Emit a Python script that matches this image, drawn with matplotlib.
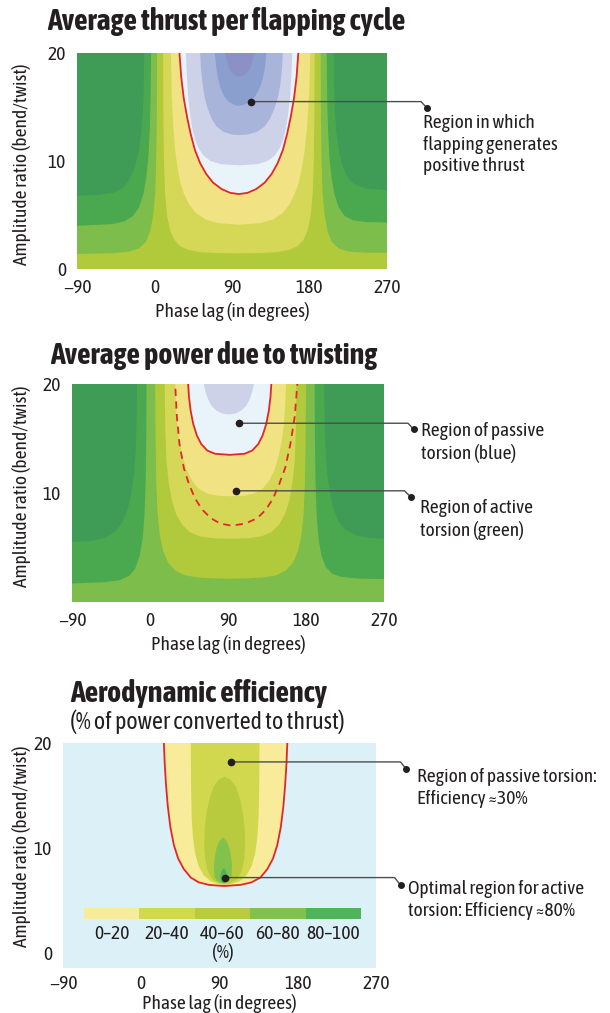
import matplotlib
matplotlib.use('Agg')
import matplotlib.pyplot as plt
import matplotlib.font_manager as fm
from matplotlib.lines import Line2D

# pick a narrow face if one is installed (the original uses a condensed sans)
_fonts = fm.fontManager.ttflist
_names = {f.name for f in _fonts}
FS = 1.0
if 'Noto Sans SemiCondensed' in _names:
    plt.rcParams['font.family'] = ['Noto Sans SemiCondensed', 'DejaVu Sans']
elif 'Liberation Sans Narrow' in _names:
    plt.rcParams['font.family'] = ['Liberation Sans Narrow', 'DejaVu Sans']
elif any('Condensed' in n for n in _names):
    cname = sorted(n for n in _names if 'Condensed' in n)[0]
    plt.rcParams['font.family'] = [cname, 'DejaVu Sans']
    FS = 1.08
else:
    plt.rcParams['font.family'] = ['Liberation Sans', 'DejaVu Sans']
    FS = 0.86

W, H = 610, 1013
INK = '#231f20'
RED = '#e3262a'

phase_ticks = [-90, 0, 90, 180, 270]

# ---------- panel 1: average thrust ----------
thr_colors = ['#3e9c56', '#4aa84f', '#7cbd4b', '#b1ca3b', '#d5d856', '#f1e284',
              '#e8f4fa', '#cdd2e8', '#a9b4da', '#8a9fce', '#8b91c6']
# outer contours: left curve (top -> left edge), right curve (top -> right edge)
thr_o1_lx = [-12, -12.5, -13.5, -15.5, -18.5, -23, -29, -37, -48, -65, -90]
thr_o1_ly = [20, 17, 14.5, 12.5, 10.8, 9.4, 8.3, 7.5, 7.05, 6.85, 6.8]
thr_o1_rx = [208, 208.5, 209.5, 211.5, 214.5, 219, 225, 233, 246, 270]
thr_o1_ry = [20, 17, 14.5, 12.5, 10.8, 9.4, 8.4, 7.8, 7.45, 7.3]
thr_o2_lx = [-4, -4.5, -5.5, -7, -9.5, -13, -18, -25, -35, -50, -90]
thr_o2_ly = [20, 16, 13, 10.5, 8.5, 6.9, 5.7, 4.9, 4.4, 4.15, 4.0]
thr_o2_rx = [200, 200.5, 201.5, 203, 205.5, 209, 214, 221, 231, 246, 270]
thr_o2_ry = [20, 16, 13, 10.5, 8.5, 6.9, 5.7, 4.9, 4.5, 4.35, 4.3]
thr_o3_lx = [3, 2.7, 2, 0.8, -1.5, -5, -10, -18, -30, -50, -90]
thr_o3_ly = [20, 14, 10, 7, 5, 3.5, 2.5, 1.9, 1.6, 1.45, 1.4]
thr_o3_rx = [193, 193.3, 194, 195.2, 197.5, 201, 206, 214, 226, 246, 270]
thr_o3_ry = [20, 14, 10, 7, 5, 3.5, 2.5, 1.9, 1.6, 1.5, 1.5]
# U-shaped contours: shared heights, left and right x
thr_u1_y = [20, 14, 10, 7, 5, 3.6, 2.7, 2.1, 1.75, 1.55, 1.47, 1.45]
thr_u1_xl = [10, 10.3, 11, 12.3, 14.5, 18, 23, 30, 40, 55, 75, 98]
thr_u1_xr = [186, 185.7, 185, 183.7, 181.5, 178, 173, 166, 156, 141, 121, 98]
thr_u2_y = [20, 16, 13, 11, 9.5, 8, 7, 6, 5.2, 4.6, 4.25, 4.1]
thr_u2_xl = [19, 20, 22, 24, 26.5, 30, 34, 40, 48, 59, 74, 98]
thr_u2_xr = [181, 179.5, 177, 174.5, 171.5, 167.5, 163, 157, 149, 138, 123, 98]
thr_u3_y = [20, 17.8, 15.8, 14, 12.5, 11, 9.8, 8.8, 8.0, 7.4, 7.05, 6.94]   # red line
thr_u3_xl = [29, 31, 34, 38, 42, 47, 53, 60, 68, 78, 88, 98]
thr_u3_xr = [167, 165, 162, 158, 154, 149, 143, 136, 128, 118, 108, 98]
thr_u4_y = [20, 18, 16, 14.5, 13, 12, 11.2, 10.5, 10, 9.7, 9.6]
thr_u4_xl = [36.5, 37.5, 39, 41, 44, 47, 51, 57, 65, 77, 98]
thr_u4_xr = [160, 159, 157.5, 155.5, 152.5, 149.5, 145.5, 139.5, 131.5, 119.5, 98]
thr_u5_y = [20, 18.5, 17, 15.8, 14.8, 13.9, 13.2, 12.7, 12.45, 12.4]
thr_u5_xl = [53, 54, 56, 58.5, 62, 66.5, 72, 80, 90, 98]
thr_u5_xr = [149, 148, 146, 143, 139, 134, 128, 119, 108, 98]
thr_u6_y = [20, 18.8, 17.7, 16.8, 16.0, 15.5, 15.2, 15.1]
thr_u6_xl = [70, 71.5, 73.5, 76.5, 81, 86, 92, 98]
thr_u6_xr = [130, 128.5, 126, 122.5, 117, 111, 104, 98]
thr_u7_y = [20, 19.2, 18.5, 18.05, 17.85, 17.8]
thr_u7_xl = [82, 84, 87, 91, 95, 98]
thr_u7_xr = [116, 113.5, 110.5, 106, 101.5, 98]

# ---------- panel 2: power due to twisting ----------
pow_colors = ['#3e9c56', '#4aa84f', '#7cbd4b', '#b1ca3b', '#d5d856', '#f1e284',
              '#e8f4fa', '#cdd2e8']
pow_o1_lx = [-15, -15.5, -16.5, -18.5, -21.5, -26, -32, -40, -52, -68, -90]
pow_o1_ly = [20, 16.5, 14, 11.8, 10, 8.5, 7.3, 6.5, 5.9, 5.6, 5.5]
pow_o1_rx = [201, 201.5, 202.5, 204.5, 207.5, 212, 218, 226, 238, 252, 270]
pow_o1_ry = [20, 16.5, 14, 11.8, 10, 8.5, 7.3, 6.6, 6.1, 5.9, 5.8]
pow_o2_lx = [-4, -4.3, -5, -6.3, -8.5, -12, -17, -24, -35, -55, -90]
pow_o2_ly = [20, 15, 11, 8, 5.8, 4.2, 3.1, 2.4, 2.0, 1.8, 1.7]
pow_o2_rx = [190, 190.3, 191, 192.3, 194.5, 198, 203, 210, 221, 240, 270]
pow_o2_ry = [20, 15, 11, 8, 5.8, 4.2, 3.2, 2.6, 2.3, 2.15, 2.1]
pow_u1_y = [20, 15, 11, 8, 6, 4.6, 3.6, 2.9, 2.45, 2.25, 2.17, 2.14]
pow_u1_xl = [6, 6.4, 7.2, 8.8, 11.5, 15.5, 21, 29, 40, 55, 72, 93]
pow_u1_xr = [180, 179.6, 178.8, 177.2, 174.5, 170.5, 165, 157, 146, 131, 114, 93]
pow_u2_y = [20, 16, 13, 11, 9.4, 8.1, 7.1, 6.4, 6.0, 5.85, 5.8]
pow_u2_xl = [17, 17.6, 19, 21.5, 25, 30, 37, 46, 58, 74, 93]
pow_u2_xr = [169, 168.4, 167, 164.5, 161, 156, 149, 140, 128, 112, 93]
pow_u3_y = [20, 18, 16.3, 14.8, 13.4, 12.2, 11.2, 10.4, 9.95, 9.75, 9.7]
pow_u3_xl = [29, 30, 31.5, 34, 37.5, 42, 48, 56, 66, 78, 93]
pow_u3_xr = [157, 156, 154.5, 152, 148.5, 144, 138, 130, 120, 108, 93]
pow_u4_y = [20, 18.8, 17.5, 16.3, 15.3, 14.5, 13.9, 13.6, 13.5]   # solid red line
pow_u4_xl = [44, 45, 47, 50, 54, 59, 66, 75, 92]
pow_u4_xr = [140, 139, 137, 134, 130, 125, 118, 109, 92]
pow_u5_y = [20, 19.3, 18.6, 18, 17.6, 17.3, 17.2]
pow_u5_xl = [62, 64, 67, 71, 76, 83, 91]
pow_u5_xr = [120, 118, 115, 111, 106, 99, 91]
pow_dash_y = [20, 17, 14.5, 12.3, 10.8, 9.5, 8.5, 7.7, 7.2, 7.0]   # dashed red line
pow_dash_xl = [29, 31, 34, 39, 45, 52, 60, 70, 81, 94]
pow_dash_xr = [170, 167, 162, 156, 149, 142, 134, 124, 110, 94]

# ---------- panel 3: aerodynamic efficiency ----------
eff_bg = '#dbf0f7'
eff_labels = ['0–20', '20–40', '40–60', '60–80', '80–100']
eff_colors = ['#f8eb9a', '#d2d84e', '#b8cb3e', '#83c14d', '#4fb35a']
eff_u1_y = [20, 18, 16, 14, 12, 10.3, 9, 8, 7.2, 6.75, 6.5, 6.4]   # red outline, 0-20
eff_u1_xl = [26, 27, 28.5, 30.5, 33.5, 37.5, 42.5, 49, 57, 66, 78, 95]
eff_u1_xr = [168, 167, 165.5, 163.5, 160.5, 156.5, 151.5, 145, 137, 127, 114, 95]
eff_u2_y = [20, 16, 13, 11, 9.5, 8.3, 7.4, 6.85, 6.6, 6.5]
eff_u2_xl = [57, 57.3, 58, 59.5, 62, 66, 72, 80, 88, 95]
eff_u2_xr = [136, 135.7, 135, 133.5, 131, 127, 121, 113, 104, 95]
eff_u3_y = [16.8, 16.5, 15.8, 14.7, 13.3, 11.8, 10.3, 8.9, 7.8, 7.0, 6.7, 6.6]
eff_u3_xl = [96, 89, 83, 78.5, 75, 73, 72.5, 73.5, 76.5, 82, 89, 96]
eff_u3_xr = [96, 103, 109, 113.5, 117, 119, 119.5, 118.5, 115.5, 110, 103, 96]
eff_u4_y = [11.0, 10.7, 10.0, 9.0, 8.1, 7.3, 6.85, 6.65]
eff_u4_xl = [94, 90, 86.5, 84.3, 83.5, 84.2, 87, 94]
eff_u4_xr = [94, 98, 101.5, 103.7, 104.5, 103.8, 101, 94]
eff_u5_y = [8.1, 7.95, 7.6, 7.2, 6.85, 6.65]
eff_u5_xl = [95, 93, 91.5, 91, 91.6, 95]
eff_u5_xr = [95, 97, 98.5, 99, 98.4, 95]


def fp(x, y):
    """pixel position in the 610x1013 picture -> figure fraction"""
    return x / W, 1 - y / H


def fill_outer(ax, lx, ly, rx, ry, color):
    px = list(lx) + [-120, -120, 300, 300] + list(rx[::-1]) + [rx[0], lx[0]]
    py = list(ly) + [ly[-1], -10, -10, ry[-1]] + list(ry[::-1]) + [30, 30]
    ax.fill(px, py, color=color, lw=0)


def fill_u(ax, y, xl, xr, color, open_top=True):
    px = list(xl) + list(xr[::-1])
    py = list(y) + list(y[::-1])
    if open_top:
        px += [xr[0], xl[0]]
        py += [30, 30]
    ax.fill(px, py, color=color, lw=0)


def u_line(ax, y, xl, xr, **kw):
    px = [xl[0]] + list(xl) + list(xr[::-1]) + [xr[0]]
    py = [30] + list(y) + list(y[::-1]) + [30]
    ax.plot(px, py, solid_joinstyle='round', **kw)


def style_axes(ax, ylim, yticks, labelpad=4):
    ax.set_xlim(-90, 270)
    ax.set_ylim(*ylim)
    ax.set_xticks(phase_ticks)
    ax.set_xticklabels([f'{t}'.replace('-', '\u2212') for t in phase_ticks])
    ax.set_yticks(yticks)
    ax.tick_params(length=0, labelsize=13 * FS, colors=INK)
    ax.tick_params(axis='x', pad=7)
    ax.tick_params(axis='y', pad=8)
    for s in ax.spines.values():
        s.set_visible(False)
    ax.set_xlabel('Phase lag (in degrees)', fontsize=13 * FS, color=INK,
                  labelpad=labelpad)


def callout(ax, xy, x_bend, end, text, text_xy):
    dx, dy = ax.transData.transform(xy)
    sx, sy = dx / W, dy / H
    bx, _ = fp(x_bend, 0)
    ex, ey = fp(*end)
    fig.add_artist(Line2D([sx, bx, ex], [sy, sy, ey], color='#4d4d4d', lw=1.0))
    fig.add_artist(Line2D([sx], [sy], marker='o', ms=4.5, color=INK, lw=0))
    fig.add_artist(Line2D([ex], [ey], marker='o', ms=4, color=INK, lw=0))
    fig.text(*fp(*text_xy), text, fontsize=13 * FS, color=INK, va='top',
             ha='left', linespacing=1.25)


fig = plt.figure(figsize=(W / 100, H / 100), dpi=100)

# panel 1
ax1 = fig.add_axes([77 / W, 1 - 269 / H, 310 / W, 216 / H])
ax1.set_facecolor(thr_colors[0])
fill_outer(ax1, thr_o1_lx, thr_o1_ly, thr_o1_rx, thr_o1_ry, thr_colors[1])
fill_outer(ax1, thr_o2_lx, thr_o2_ly, thr_o2_rx, thr_o2_ry, thr_colors[2])
fill_outer(ax1, thr_o3_lx, thr_o3_ly, thr_o3_rx, thr_o3_ry, thr_colors[3])
thr_us = [(thr_u1_y, thr_u1_xl, thr_u1_xr), (thr_u2_y, thr_u2_xl, thr_u2_xr),
          (thr_u3_y, thr_u3_xl, thr_u3_xr), (thr_u4_y, thr_u4_xl, thr_u4_xr),
          (thr_u5_y, thr_u5_xl, thr_u5_xr), (thr_u6_y, thr_u6_xl, thr_u6_xr),
          (thr_u7_y, thr_u7_xl, thr_u7_xr)]
for (y, xl, xr), c in zip(thr_us, thr_colors[4:]):
    fill_u(ax1, y, xl, xr, c)
u_line(ax1, thr_u3_y, thr_u3_xl, thr_u3_xr, color=RED, lw=1.3)
style_axes(ax1, (0, 20), [0, 10, 20])

# panel 2
ax2 = fig.add_axes([72 / W, 1 - 602 / H, 312 / W, 218 / H])
ax2.set_facecolor(pow_colors[0])
fill_outer(ax2, pow_o1_lx, pow_o1_ly, pow_o1_rx, pow_o1_ry, pow_colors[1])
fill_outer(ax2, pow_o2_lx, pow_o2_ly, pow_o2_rx, pow_o2_ry, pow_colors[2])
pow_us = [(pow_u1_y, pow_u1_xl, pow_u1_xr), (pow_u2_y, pow_u2_xl, pow_u2_xr),
          (pow_u3_y, pow_u3_xl, pow_u3_xr), (pow_u4_y, pow_u4_xl, pow_u4_xr),
          (pow_u5_y, pow_u5_xl, pow_u5_xr)]
for (y, xl, xr), c in zip(pow_us, pow_colors[3:]):
    fill_u(ax2, y, xl, xr, c)
u_line(ax2, pow_u4_y, pow_u4_xl, pow_u4_xr, color=RED, lw=1.3)
u_line(ax2, pow_dash_y, pow_dash_xl, pow_dash_xr, color=RED, lw=1.3,
       ls=(0, (4, 3)))
style_axes(ax2, (0, 20), [10, 20])

# panel 3
ax3 = fig.add_axes([63 / W, 1 - 968 / H, 313 / W, 225 / H])
ax3.set_facecolor(eff_bg)
eff_us = [(eff_u1_y, eff_u1_xl, eff_u1_xr, True), (eff_u2_y, eff_u2_xl, eff_u2_xr, True),
          (eff_u3_y, eff_u3_xl, eff_u3_xr, False), (eff_u4_y, eff_u4_xl, eff_u4_xr, False),
          (eff_u5_y, eff_u5_xl, eff_u5_xr, False)]
for (y, xl, xr, op), c in zip(eff_us, eff_colors):
    fill_u(ax3, y, xl, xr, c, open_top=op)
u_line(ax3, eff_u1_y, eff_u1_xl, eff_u1_xr, color=RED, lw=1.3)
style_axes(ax3, (-1.4, 20), [0, 10, 20], labelpad=1)
ax3.tick_params(axis='x', pad=5)

# colour key inside panel 3
kax = fig.add_axes([84 / W, 1 - 919 / H, 277 / W, 11 / H])
kax.bar(range(len(eff_labels)), [1] * len(eff_labels), width=1.0,
        color=eff_colors, lw=0)
kax.set_xlim(-0.5, len(eff_labels) - 0.5)
kax.set_ylim(0, 1)
kax.axis('off')
for i, lab in enumerate(eff_labels):
    kax.text(i, -0.55, lab, ha='center', va='top', fontsize=13 * FS, color=INK)
kax.text(2, -2.2, '(%)', ha='center', va='top', fontsize=13 * FS, color=INK)

# titles and axis titles
fig.text(*fp(47, 22), 'Average thrust per flapping cycle', fontsize=20 * FS,
         fontweight='bold', color=INK, va='center')
fig.text(*fp(50, 355), 'Average power due to twisting', fontsize=20 * FS,
         fontweight='bold', color=INK, va='center')
fig.text(*fp(70, 693), 'Aerodynamic efficiency', fontsize=20 * FS,
         fontweight='bold', color=INK, va='center')
fig.text(*fp(70, 722), '(% of power converted to thrust)', fontsize=16 * FS,
         color=INK, va='center')
for yc in [164, 486, 846]:
    fig.text(*fp(22, yc), 'Amplitude ratio (bend/twist)', fontsize=13 * FS,
             color=INK, rotation=90, ha='center', va='center')

callout(ax1, (112, 15.5), 421, (427, 108),
        'Region in which\nflapping generates\npositive thrust', (423, 114))
callout(ax2, (103, 16.4), 408, (413.5, 429),
        'Region of passive\ntorsion (blue)', (421, 422))
callout(ax2, (99.5, 10.2), 404.5, (410.7, 497),
        'Region of active\ntorsion (green)', (420, 499))
callout(ax3, (102.8, 18.2), 400.5, (406.3, 769.3),
        'Region of passive torsion:\nEfficiency \u224830%', (417, 768))
callout(ax3, (96, 7.2), 394.6, (400.5, 885),
        'Optimal region for active\ntorsion: Efficiency \u224880%', (407.5, 880))

fig.savefig('out.png', dpi=100)
